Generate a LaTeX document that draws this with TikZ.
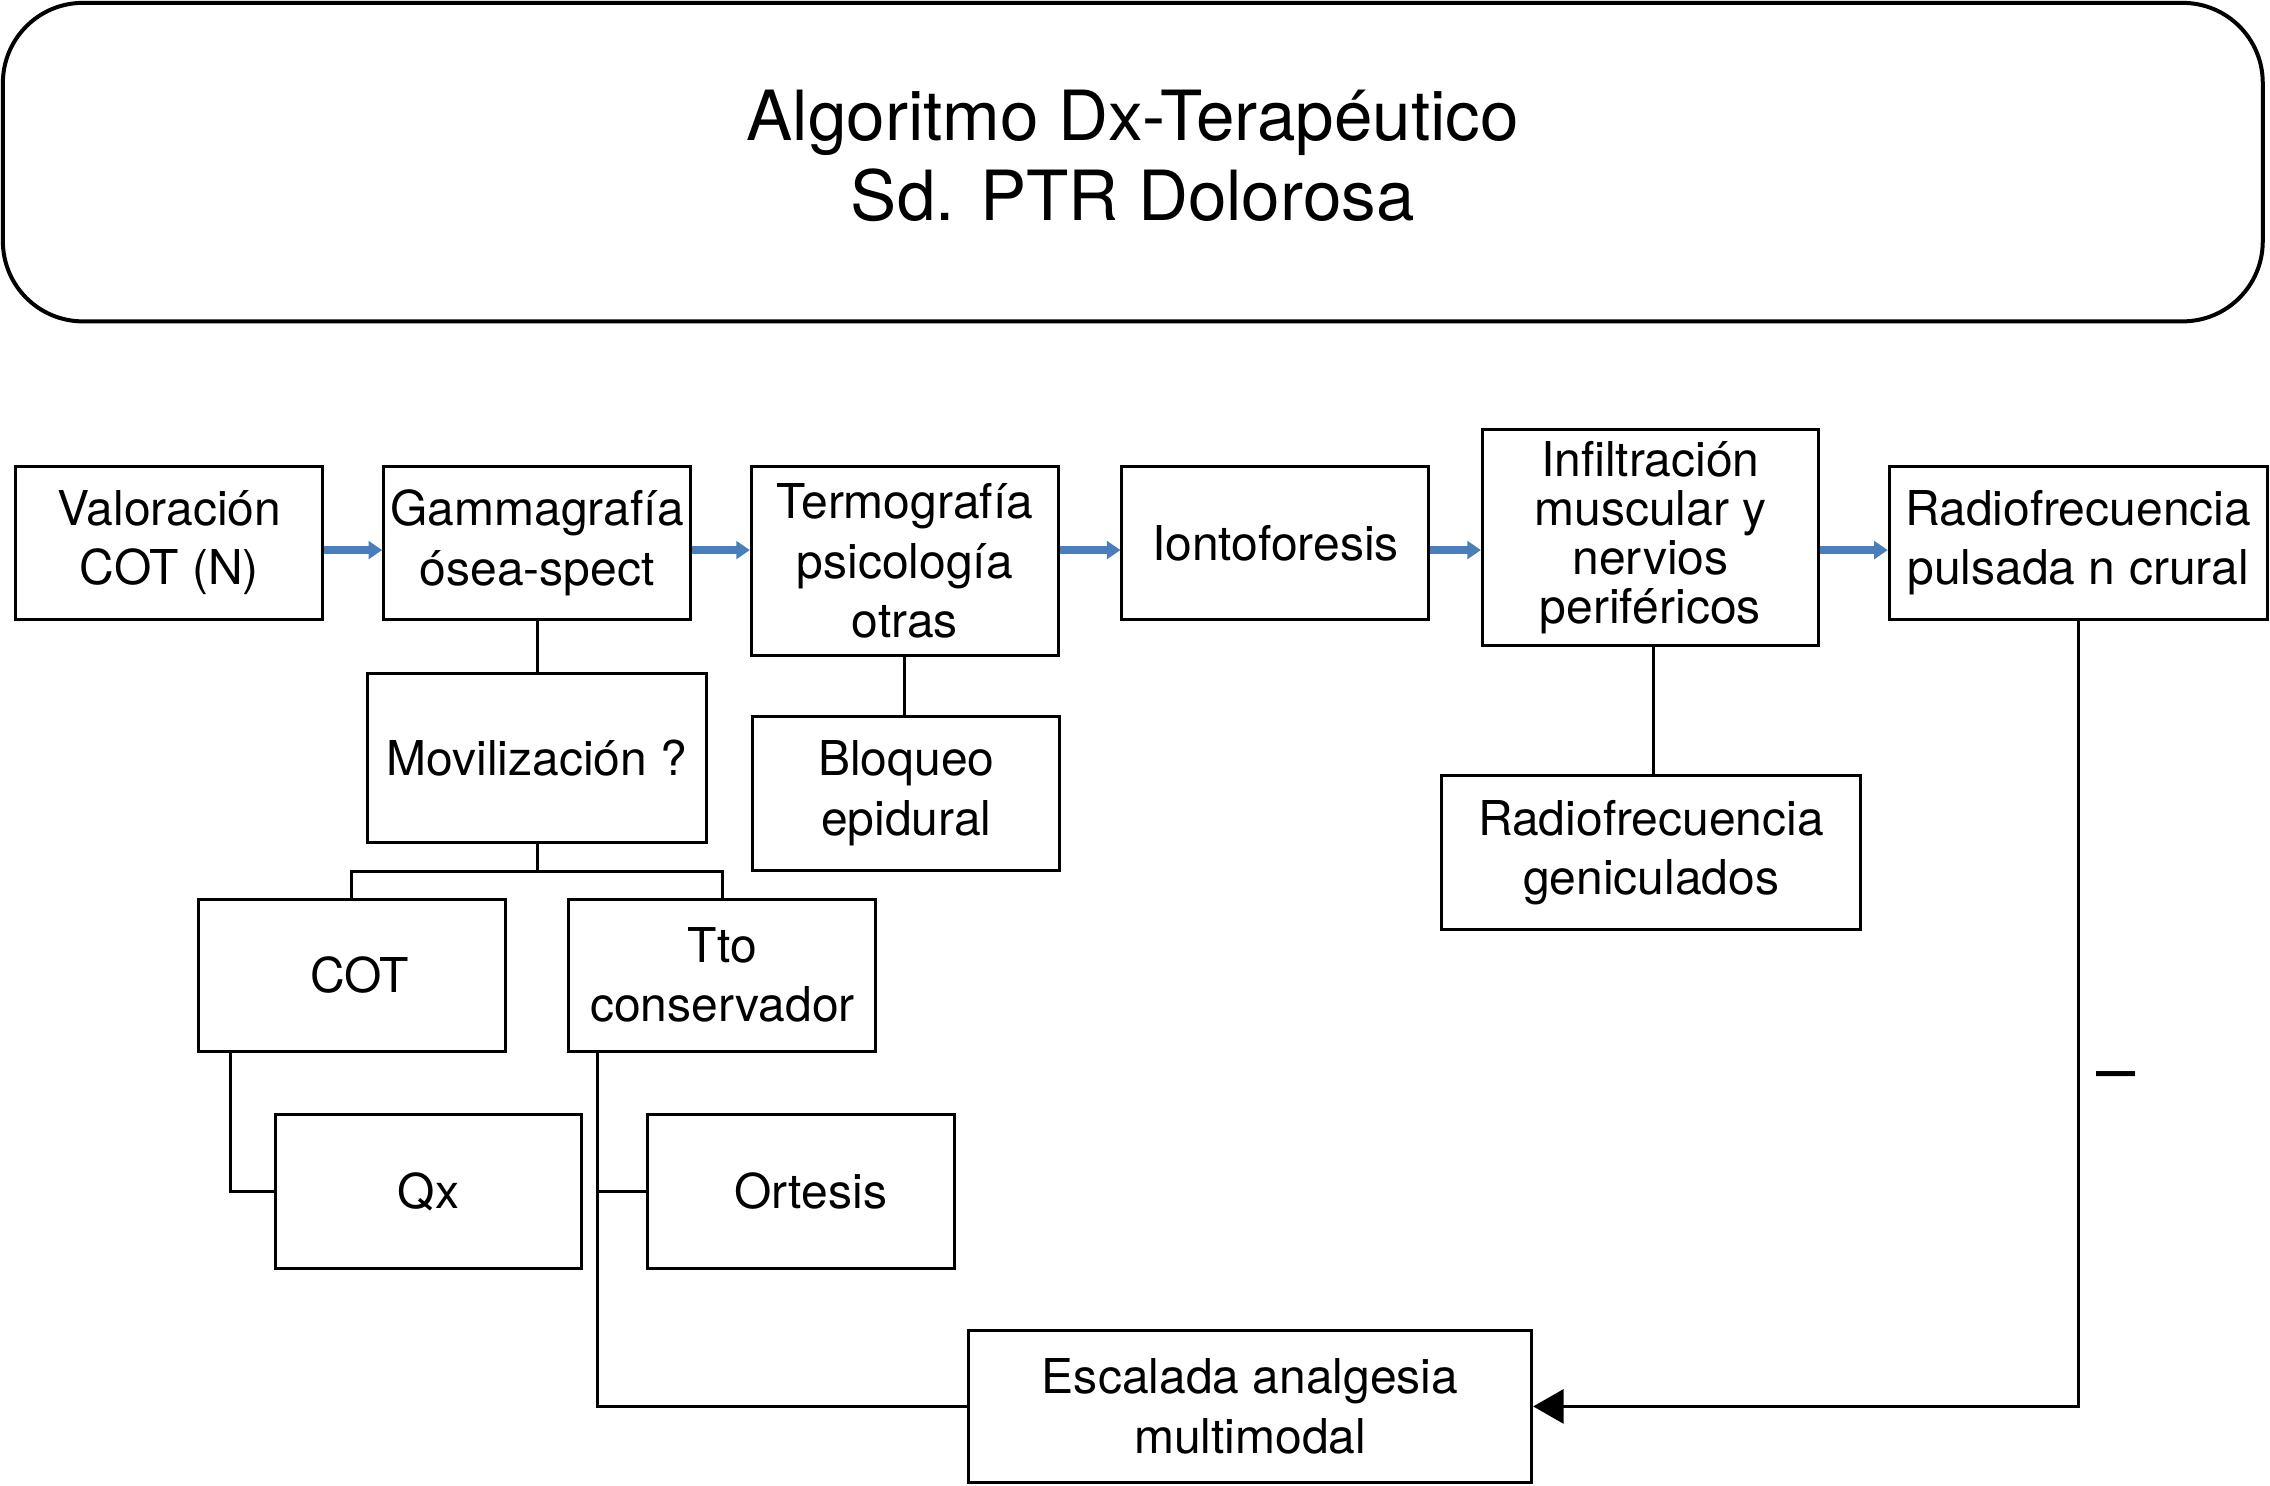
\documentclass[tikz,border=0pt]{standalone}
\usepackage{fontspec}
\setmainfont{TeX Gyre Heros}
\usetikzlibrary{arrows.meta}
\definecolor{arrowblue}{HTML}{4A7EBB}
\begin{document}
\begin{tikzpicture}[x=0.3619pt,y=-0.3619pt,
  area/.style n args={4}{minimum width={(#3-#1)*0.3619pt}, minimum height={(#4-#2)*0.3619pt},
       at={({(#1+#3)/2},{(#2+#4)/2})}},
  box/.style={draw, line width=0.75pt, inner sep=0pt, align=center, font=\fontsize{12}{14.8}\selectfont},
  conn/.style={line width=0.75pt},
  blk/.style={line width=2pt, arrowblue, -{Triangle[length=3.4pt,width=4.4pt]}},
  endarrow/.style={conn, -{Triangle[length=7.6pt,width=8.5pt]}}
]
\useasboundingbox (0,0) rectangle (1568,1026);
\node[draw, line width=1pt, rounded corners=20pt, inner sep=0pt, align=center,
      font=\fontsize{17.3}{20}\selectfont, area={2}{2}{1563}{222}] (title)
      {Algoritmo Dx-Terapéutico\\Sd. PTR Dolorosa\\[-16.4pt]\mbox{}};

\node[box, area={11}{322}{223}{428}] (val) {Valoración\\COT (N)};
\node[box, area={265}{322}{477}{428}] (gam) {Gammagrafía\\ósea-spect};
\node[box, area={519}{322}{731}{453}] (term) {Termografía\\psicología\\otras};
\node[box, area={775}{322}{987}{428}] (ion) {Iontoforesis};
\node[box, font=\fontsize{12}{12.2}\selectfont, area={1024}{297}{1256}{446}] (inf) {Infiltración\\muscular y\\nervios\\periféricos};
\node[box, area={1305}{322}{1566}{428}] (rpc) {Radiofrecuencia\\pulsada n crural};

\node[box, area={254}{465}{488}{582}] (mov) {Movilización ?};
\node[box, area={137}{621}{349}{726}] (cot) {\hspace*{4pt}COT};
\node[box, area={393}{621}{605}{726}] (tto) {Tto\\conservador};
\node[box, area={190}{770}{402}{876}] (qx) {Qx};
\node[box, area={447}{770}{659}{876}] (ort) {\hspace*{5pt}Ortesis};
\node[box, area={520}{495}{732}{601}] (bloq) {Bloqueo\\epidural};
\node[box, area={996}{536}{1285}{642}] (gen) {Radiofrecuencia\\geniculados};
\node[box, area={669}{919}{1058}{1024}] (esc) {Escalada analgesia\\multimodal};

\node[inner sep=0pt, font=\fontsize{17.6}{20}\selectfont] (minus) at (1462,748) {–};

% blue arrows
\draw[blk] ([yshift=-1.8pt]val.east) -- ([yshift=-1.8pt]gam.west);
\draw[blk] ([yshift=-1.8pt]gam.east) -- ([yshift=-1.8pt]gam.east -| term.west);
\draw[blk] ([yshift=-1.8pt]ion.west -| term.east) -- ([yshift=-1.8pt]ion.west);
\draw[blk] ([yshift=-1.8pt]ion.east) -- ([yshift=-1.8pt]ion.east -| inf.west);
\draw[blk] ([yshift=-1.8pt]rpc.west -| inf.east) -- ([yshift=-1.8pt]rpc.west);

% tree connectors
\draw[conn] (gam.south) -- (mov.north);
\draw[conn] (mov.south) -- ++(0,19) coordinate (j);
\draw[conn] (j) -| (cot.north);
\draw[conn] (j) -| (tto.north);
\coordinate (c) at ([xshift=8.3pt]cot.south west);
\draw[conn] (c) |- (qx.west);
\coordinate (t) at ([xshift=7.6pt]tto.south west);
\draw[conn] (t) |- (esc.west);
\draw[conn] (ort.west) -- (ort.west -| t);
\draw[conn] (term.south) -- (term.south |- bloq.north);
\coordinate (g) at ([xshift=0.7pt]inf.south);
\draw[conn] (g) -- (g |- gen.north);
\draw[endarrow] (rpc.south) |- (esc.east);
\end{tikzpicture}
\end{document}
